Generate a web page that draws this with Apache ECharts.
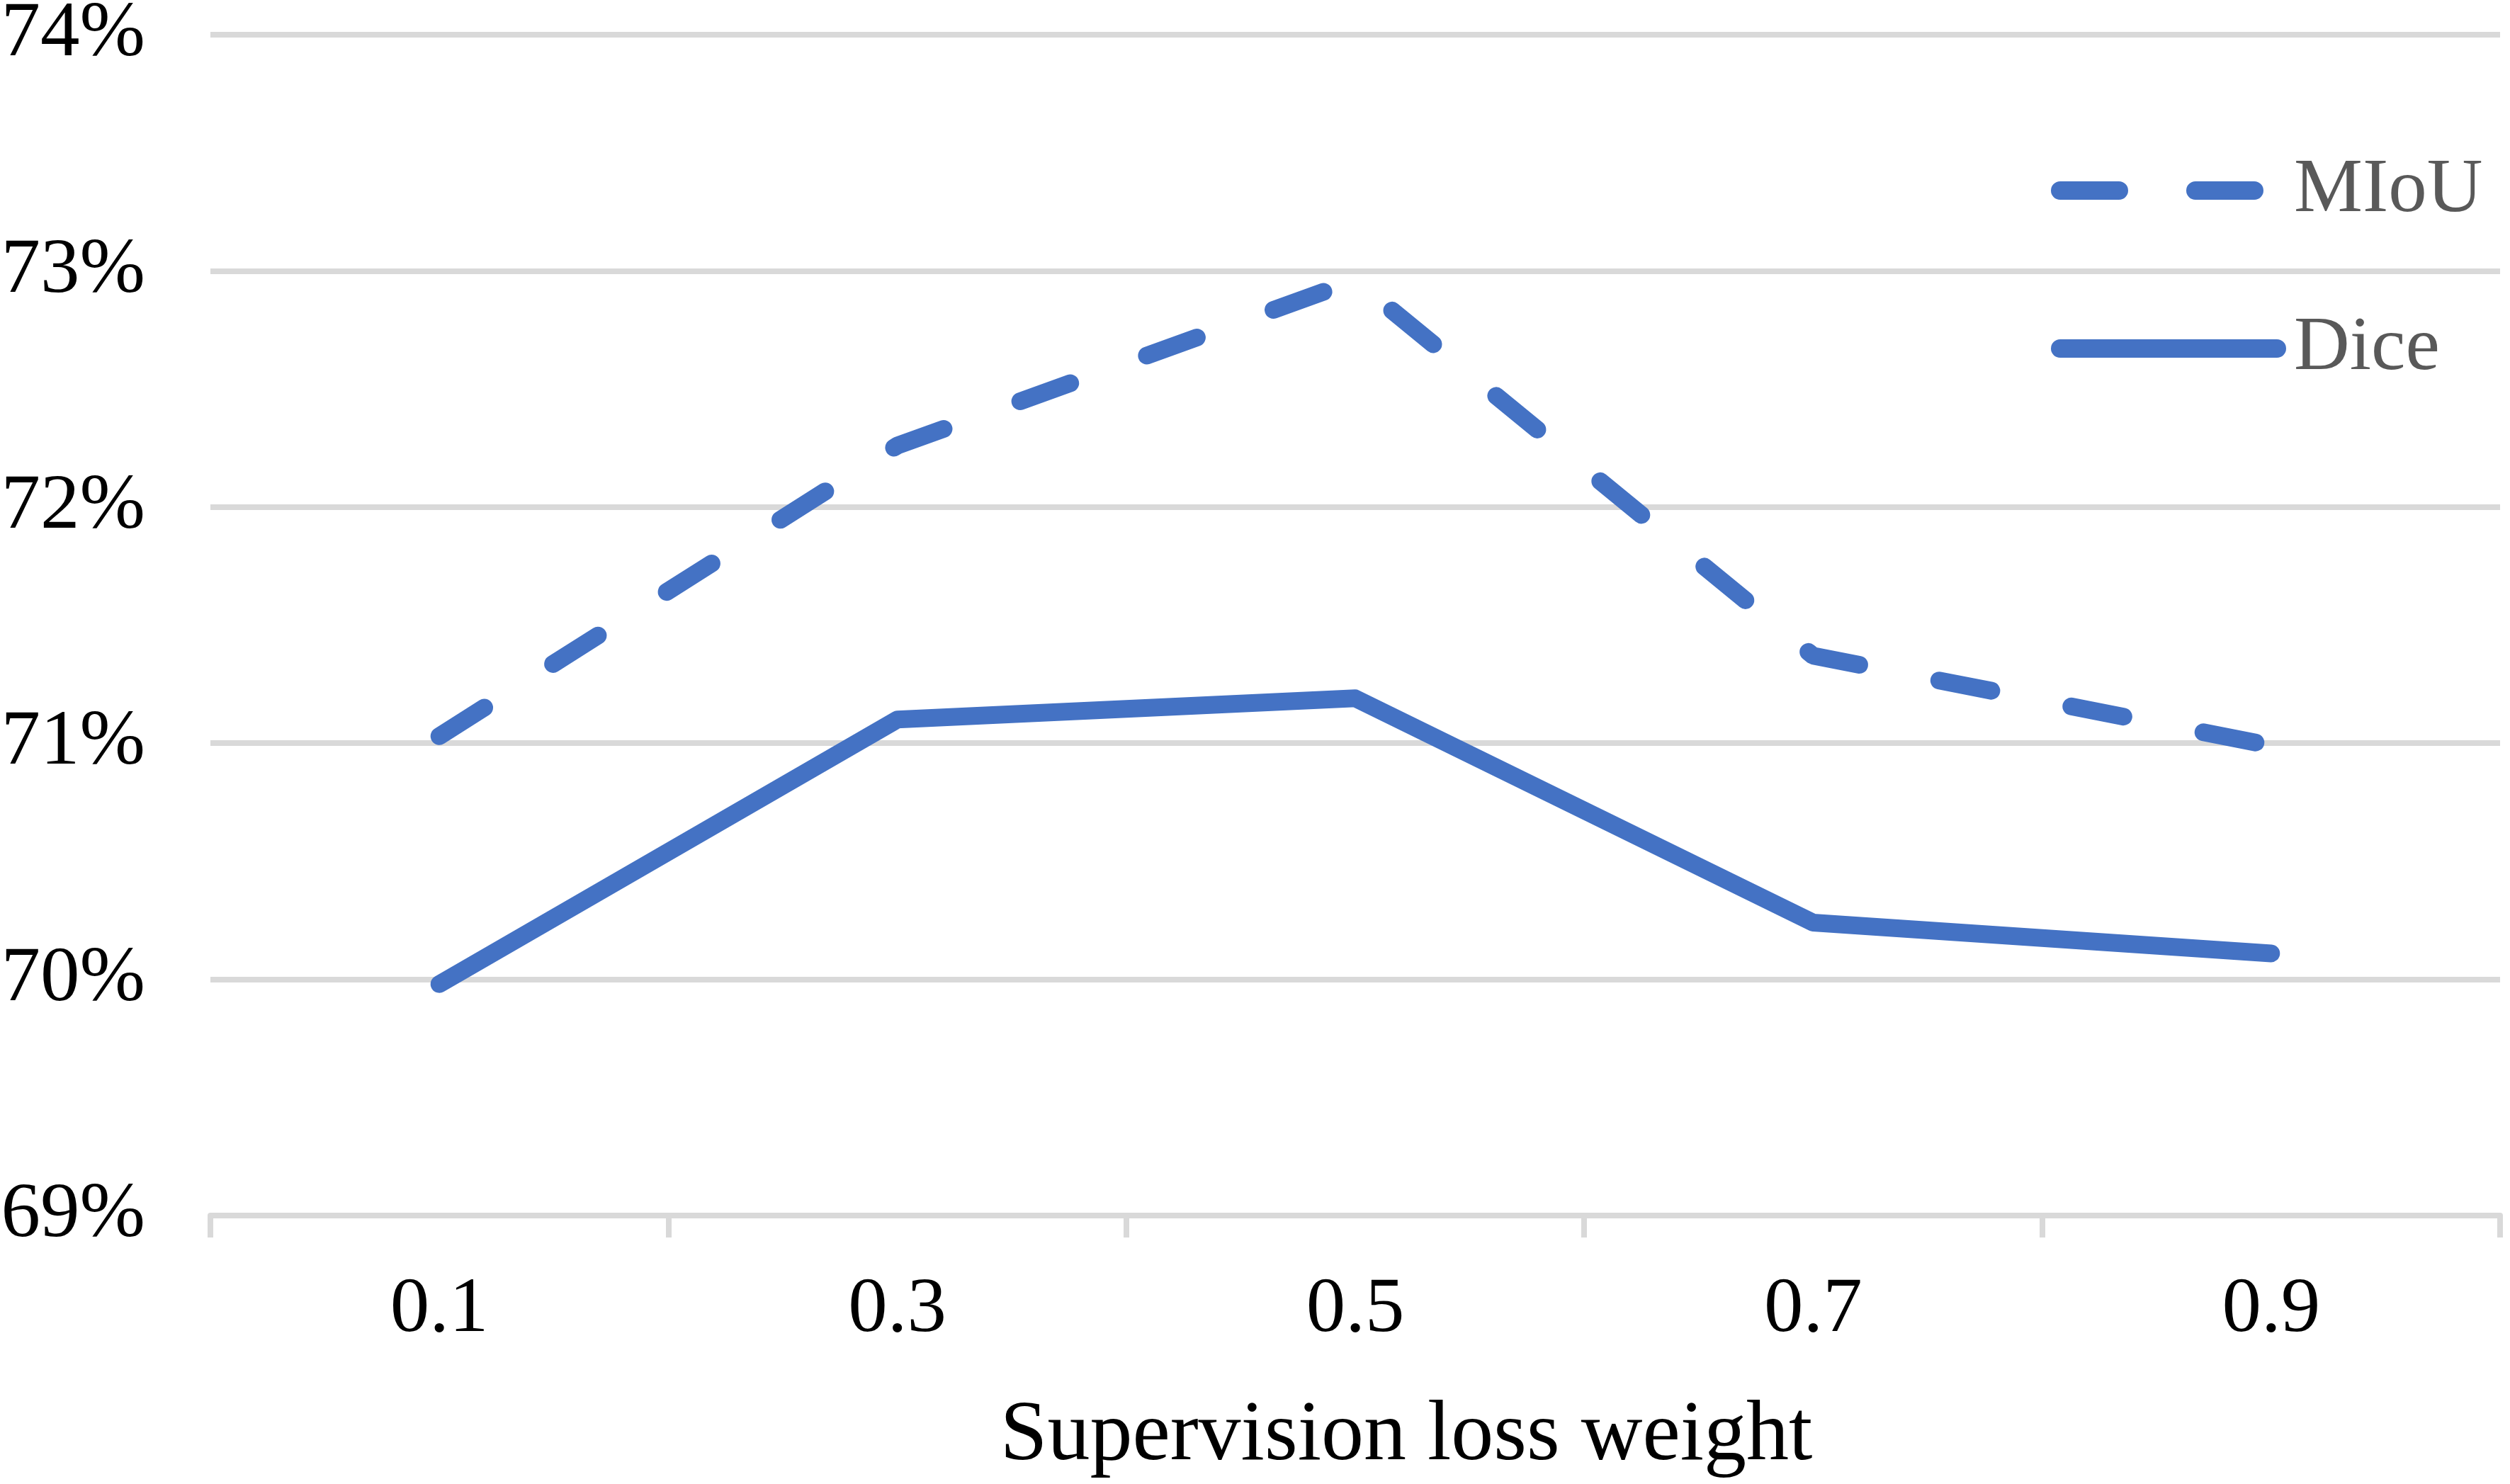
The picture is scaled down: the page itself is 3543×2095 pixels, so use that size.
<!DOCTYPE html>
<html>
<head>
<meta charset="utf-8">
<script src="https://cdn.jsdelivr.net/npm/echarts@6/dist/echarts.min.js"></script>
<style>
  html, body { margin: 0; padding: 0; background: #fff; }
  #main { width: 3543px; height: 2095px; }
</style>
</head>
<body>
<div id="main"></div>
<script>
var weights = ["0.1", "0.3", "0.5", "0.7", "0.9"];
var miou = [71.03, 72.26, 72.96, 71.37, 70.99];
var dice = [69.98, 71.10, 71.19, 70.24, 70.11];
var yMin = 69, yMax = 74, yStep = 1;

var font = "Liberation Serif, Times New Roman, serif";
var blue = "#4472C4";
var grey = "#D9D9D9";

var myChart = echarts.init(document.getElementById("main"));
var legendText = {
  fontFamily: font,
  fontSize: 109,
  color: "#595959",
  lineHeight: 120,
  padding: [0, 0, 0, 19]
};
var option = {
  animation: false,
  grid: {
    left: 297,
    right: 14,
    top: 49,
    bottom: 379,
    outerBoundsMode: "none"
  },
  legend: [
    {
      data: ["MIoU"],
      left: 2890,
      top: 204,
      itemWidth: 306,
      itemHeight: 30,
      textStyle: legendText,
      itemStyle: { opacity: 0, borderWidth: 0 },
      lineStyle: { width: 26, type: [83, 108], cap: "round" }
    },
    {
      data: ["Dice"],
      left: 2890,
      top: 427,
      itemWidth: 306,
      itemHeight: 30,
      textStyle: legendText,
      itemStyle: { opacity: 0, borderWidth: 0 },
      lineStyle: { width: 26, cap: "round" }
    }
  ],
  xAxis: {
    type: "category",
    data: weights,
    boundaryGap: true,
    name: "Supervision loss weight",
    nameLocation: "middle",
    nameGap: 252,
    nameTextStyle: {
      fontFamily: font,
      fontSize: 120,
      color: "#000",
      padding: [0, 0, 0, 144]
    },
    axisLine: { lineStyle: { color: grey, width: 8 } },
    axisTick: { show: true, length: 31, lineStyle: { color: grey, width: 8 } },
    axisLabel: {
      fontFamily: font,
      fontSize: 111,
      color: "#000",
      margin: 78
    }
  },
  yAxis: {
    type: "value",
    min: yMin,
    max: yMax,
    interval: yStep,
    axisLine: { show: false },
    axisTick: { show: false },
    axisLabel: {
      fontFamily: font,
      fontSize: 111,
      color: "#000",
      margin: 92,
      formatter: "{value}%"
    },
    splitLine: { lineStyle: { color: grey, width: 8 } }
  },
  series: [
    {
      name: "MIoU",
      type: "line",
      data: miou,
      symbol: "none",
      lineStyle: { color: blue, width: 25, type: [75, 115], cap: "round" },
      itemStyle: { color: blue }
    },
    {
      name: "Dice",
      type: "line",
      data: dice,
      symbol: "none",
      lineStyle: { color: blue, width: 25, cap: "round", join: "round" },
      itemStyle: { color: blue }
    }
  ]
};
myChart.setOption(option);
</script>
</body>
</html>
